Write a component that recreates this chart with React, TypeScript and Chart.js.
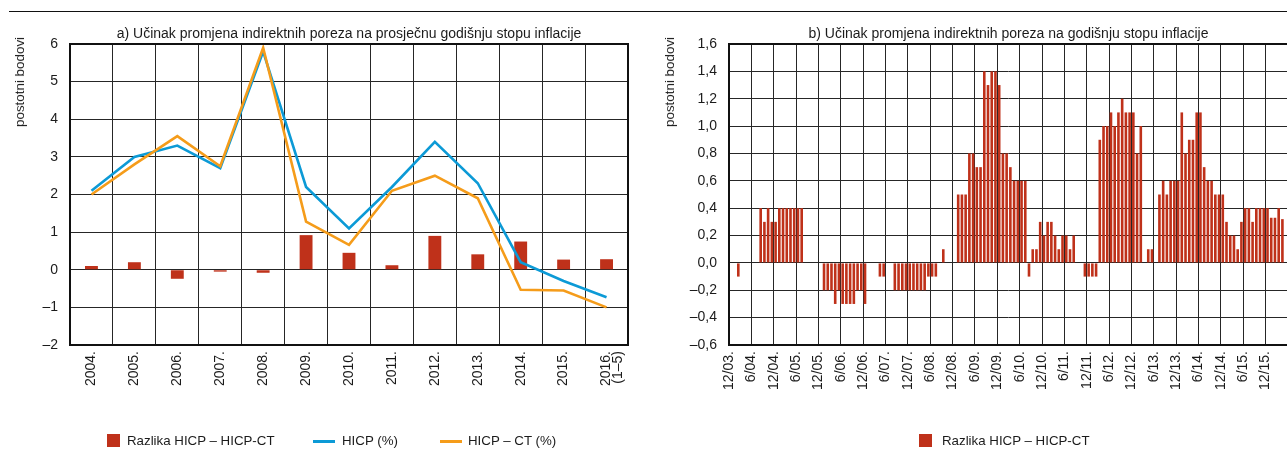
import React, { useEffect, useRef } from 'react';
import { Chart, registerables } from 'chart.js';

Chart.register(...registerables);

const FONT = "'Liberation Sans', Arial, Helvetica, sans-serif";
const INK = '#1b1b1b';
const GRID = '#262626';
const RED = '#bf311a';
const BLUE = '#0c9ad6';
const ORANGE = '#f59c1a';

Chart.defaults.font.family = FONT;
Chart.defaults.color = INK;

// ---------- a) annual averages ----------
const yearsA: (string | string[])[] = [
  '2004.', '2005.', '2006.', '2007.', '2008.', '2009.', '2010.',
  '2011.', '2012.', '2013.', '2014.', '2015.', ['2016.', '(1–5)'],
];
const diffA = [0.1, 0.2, -0.24, -0.05, -0.08, 0.92, 0.45, 0.12, 0.9, 0.41, 0.75, 0.27, 0.28];
const hicpA = [2.1, 3.0, 3.3, 2.7, 5.8, 2.2, 1.1, 2.2, 3.4, 2.3, 0.2, -0.3, -0.73];
const hicpCtA = [2.0, 2.8, 3.55, 2.75, 5.9, 1.28, 0.66, 2.1, 2.5, 1.9, -0.53, -0.55, -1.0];

// ---------- b) monthly ----------
const tickLabelsB = [
  '12/03.', '6/04.', '12/04.', '6/05.', '12/05.', '6/06.', '12/06.', '6/07.', '12/07.',
  '6/08.', '12/08.', '6/09.', '12/09.', '6/10.', '12/10.', '6/11.', '12/11.', '6/12.',
  '12/12.', '6/13.', '12/13.', '6/14.', '12/14.', '6/15.', '12/15.', '',
];
const diffB = [
  0, 0, -0.1, 0, 0, 0,
  0, 0, 0.4, 0.3, 0.4, 0.3,
  0.3, 0.4, 0.4, 0.4, 0.4, 0.4,
  0.4, 0.4, 0, 0, 0, 0,
  0, -0.2, -0.2, -0.2, -0.3, -0.2,
  -0.3, -0.3, -0.3, -0.3, -0.2, -0.2,
  -0.3, 0, 0, 0, -0.1, -0.1,
  0, 0, -0.2, -0.2, -0.2, -0.2,
  -0.2, -0.2, -0.2, -0.2, -0.2, -0.1,
  -0.1, -0.1, 0, 0.1, 0, 0,
  0, 0.5, 0.5, 0.5, 0.8, 0.8,
  0.7, 0.7, 1.4, 1.3, 1.4, 1.4,
  1.3, 0.8, 0.8, 0.7, 0.6, 0.6,
  0.6, 0.6, -0.1, 0.1, 0.1, 0.3,
  0.2, 0.3, 0.3, 0.2, 0.1, 0.2,
  0.2, 0.1, 0.2, 0, 0, -0.1,
  -0.1, -0.1, -0.1, 0.9, 1.0, 1.0,
  1.1, 1.0, 1.1, 1.2, 1.1, 1.1,
  1.1, 0.8, 1.0, 0, 0.1, 0.1,
  0, 0.5, 0.6, 0.5, 0.6, 0.6,
  0.6, 1.1, 0.8, 0.9, 0.9, 1.1,
  1.1, 0.7, 0.6, 0.6, 0.5, 0.5,
  0.5, 0.3, 0.2, 0.2, 0.1, 0.3,
  0.4, 0.4, 0.3, 0.4, 0.4, 0.4,
  0.4, 0.33, 0.33, 0.4, 0.32,
];

const fmtA = (v: number) => (v < 0 ? '–' + Math.abs(v) : String(v));
const fmtB = (v: number) => {
  const s = Math.abs(v).toFixed(1).replace('.', ',');
  return v < -1e-9 ? '–' + s : s;
};

const framePlugin = {
  id: 'plotFrame',
  afterDraw(chart: any) {
    const { ctx, chartArea: a } = chart;
    const l = Math.round(a.left), t = Math.round(a.top), r = Math.round(a.right), b = Math.round(a.bottom);
    ctx.save();
    ctx.strokeStyle = '#111';
    ctx.lineWidth = 2;
    ctx.strokeRect(l, t, r - l, b - t);
    ctx.restore();
  },
};

const tickFont = { family: FONT, size: 14, lineHeight: 0.85 };
const gridOpts = (offset: boolean) => ({ offset, color: GRID, lineWidth: 1, drawTicks: false });

function configA(): any {
  return {
    type: 'bar',
    data: {
      labels: yearsA,
      datasets: [
        { type: 'bar', label: 'Razlika HICP – HICP-CT', data: diffA, backgroundColor: RED, barPercentage: 0.3, categoryPercentage: 1, order: 3 },
        { type: 'line', label: 'HICP (%)', data: hicpA, borderColor: BLUE, backgroundColor: BLUE, borderWidth: 2.6, pointRadius: 0, tension: 0, fill: false, order: 2 },
        { type: 'line', label: 'HICP – CT (%)', data: hicpCtA, borderColor: ORANGE, backgroundColor: ORANGE, borderWidth: 2.6, pointRadius: 0, tension: 0, fill: false, order: 1 },
      ],
    },
    options: {
      animation: false,
      responsive: false,
      events: [],
      layout: { padding: { top: 44, right: 12, bottom: 47, left: 0 }, autoPadding: false },
      plugins: { legend: { display: false }, title: { display: false }, tooltip: { enabled: false } },
      scales: {
        x: {
          type: 'category',
          offset: true,
          grid: gridOpts(true),
          border: { display: false },
          ticks: { minRotation: 90, maxRotation: 90, autoSkip: false, padding: 6, color: INK, font: tickFont },
          afterFit(s: any) { s.height = 60; s.paddingLeft = 0; s.paddingRight = 0; },
        },
        y: {
          min: -2,
          max: 6,
          grid: gridOpts(false),
          border: { display: false },
          ticks: { stepSize: 1, maxTicksLimit: 100, padding: 12, color: INK, font: tickFont, callback: (v: any) => fmtA(Number(v)) },
          afterFit(s: any) { s.width = 70; s.paddingTop = 0; s.paddingBottom = 0; },
        },
      },
    },
    plugins: [framePlugin],
  };
}

function configB(): any {
  return {
    type: 'bar',
    data: {
      datasets: [
        {
          type: 'bar',
          label: 'Razlika HICP – HICP-CT',
          data: diffB.map((v, i) => ({ x: i + 0.5, y: v })),
          backgroundColor: RED,
          barPercentage: 0.7,
          categoryPercentage: 1,
        },
      ],
    },
    options: {
      animation: false,
      responsive: false,
      events: [],
      layout: { padding: { top: 44, right: 12, bottom: 47, left: 0 }, autoPadding: false },
      plugins: { legend: { display: false }, title: { display: false }, tooltip: { enabled: false } },
      scales: {
        x: {
          type: 'linear',
          min: 0,
          max: 150,
          offset: false,
          grid: gridOpts(false),
          border: { display: false },
          ticks: {
            stepSize: 6,
            maxTicksLimit: 100,
            autoSkip: false,
            minRotation: 90,
            maxRotation: 90,
            padding: 6,
            color: INK,
            font: tickFont,
            callback: (v: any) => tickLabelsB[Math.round(Number(v) / 6)] ?? '',
          },
          afterFit(s: any) { s.height = 60; s.paddingLeft = 0; s.paddingRight = 0; },
        },
        y: {
          min: -0.6,
          max: 1.6,
          grid: gridOpts(false),
          border: { display: false },
          ticks: { stepSize: 0.2, maxTicksLimit: 100, padding: 12, color: INK, font: tickFont, callback: (v: any) => fmtB(Number(v)) },
          afterFit(s: any) { s.width = 89; s.paddingTop = 0; s.paddingBottom = 0; },
        },
      },
    },
    plugins: [framePlugin],
  };
}

const abs = (extra: React.CSSProperties): React.CSSProperties => ({ position: 'absolute', whiteSpace: 'nowrap', ...extra });

const titleStyle = (cx: number): React.CSSProperties =>
  abs({ left: cx, top: 25, transform: 'translateX(-50%)', fontSize: 14, lineHeight: '16px' });

const yTitleStyle = (cx: number): React.CSSProperties =>
  abs({ left: cx, top: 82, transform: 'translate(-50%, -50%) rotate(-90deg)', fontSize: 13.4, lineHeight: '16px' });

const legendText = (left: number): React.CSSProperties => abs({ left, top: 433.4, fontSize: 13.3, lineHeight: '16px' });
const legendBox = (left: number): React.CSSProperties => abs({ left, top: 434, width: 13, height: 13, background: RED });
const legendLine = (left: number, color: string): React.CSSProperties => abs({ left, top: 440, width: 22, height: 3, background: color });

export default function App() {
  const refA = useRef<HTMLCanvasElement>(null);
  const refB = useRef<HTMLCanvasElement>(null);

  useEffect(() => {
    const a = new Chart(refA.current as HTMLCanvasElement, configA());
    const b = new Chart(refB.current as HTMLCanvasElement, configB());
    return () => {
      a.destroy();
      b.destroy();
    };
  }, []);

  return (
    <div
      style={{
        position: 'fixed', left: 0, top: 0, width: 1287, height: 452, overflow: 'hidden',
        background: '#fff', fontFamily: FONT, color: INK,
      }}
    >
      <div style={abs({ left: 9, top: 11, width: 1278, height: 1, background: '#111' })} />
      <canvas ref={refA} width={640} height={452} style={{ position: 'absolute', left: 0, top: 0, width: 640, height: 452 }} />
      <canvas ref={refB} width={660} height={452} style={{ position: 'absolute', left: 640, top: 0, width: 660, height: 452 }} />

      <div style={titleStyle(349)}>a) Učinak promjena indirektnih poreza na prosječnu godišnju stopu inflacije</div>
      <div style={titleStyle(1008.5)}>b) Učinak promjena indirektnih poreza na godišnju stopu inflacije</div>

      <div style={yTitleStyle(20)}>postotni bodovi</div>
      <div style={yTitleStyle(670)}>postotni bodovi</div>

      <div style={legendBox(107)} />
      <div style={legendText(127)}>Razlika HICP – HICP-CT</div>
      <div style={legendLine(313, BLUE)} />
      <div style={legendText(342)}>HICP (%)</div>
      <div style={legendLine(440, ORANGE)} />
      <div style={legendText(468)}>HICP – CT (%)</div>

      <div style={legendBox(919)} />
      <div style={legendText(942)}>Razlika HICP – HICP-CT</div>
    </div>
  );
}
